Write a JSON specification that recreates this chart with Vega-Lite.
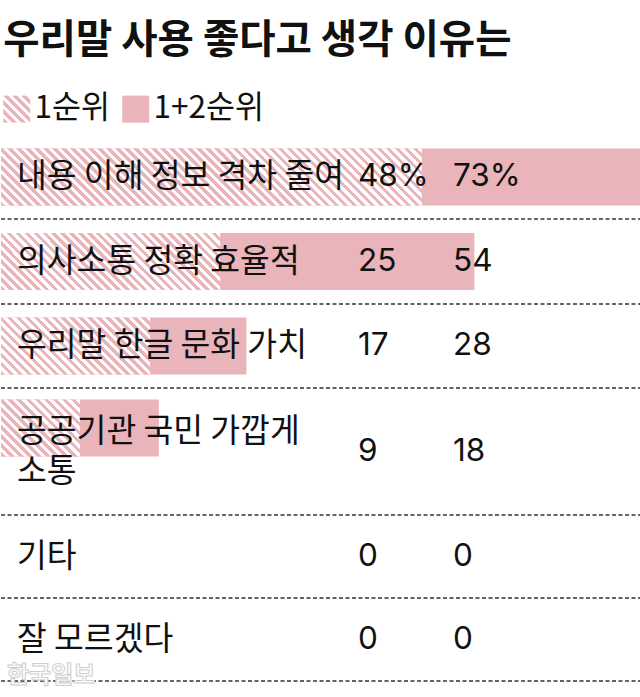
{
  "$schema": "https://vega.github.io/schema/vega-lite/v6.json",
  "padding": {"top": 20, "left": 0, "right": 0, "bottom": 16},
  "background": "white",
  "bounds": "flush",
  "spacing": 0,
  "title": {"text": "우리말 사용 좋다고 생각 이유는", "anchor": "start", "font": "Noto Sans CJK KR", "fontSize": 39.5, "fontWeight": "bold", "color": "#111111", "offset": 8, "dx": 3},
  "data": {
    "values": [
      {"item": "내용 이해 정보 격차 줄여", "series": "1순위", "value": 48},
      {"item": "내용 이해 정보 격차 줄여", "series": "1+2순위", "value": 73},
      {"item": "의사소통 정확 효율적", "series": "1순위", "value": 25},
      {"item": "의사소통 정확 효율적", "series": "1+2순위", "value": 54},
      {"item": "우리말 한글 문화 가치", "series": "1순위", "value": 17},
      {"item": "우리말 한글 문화 가치", "series": "1+2순위", "value": 28},
      {"item": "공공기관 국민 가깝게\n소통", "series": "1순위", "value": 9},
      {"item": "공공기관 국민 가깝게\n소통", "series": "1+2순위", "value": 18},
      {"item": "기타", "series": "1순위", "value": 0},
      {"item": "기타", "series": "1+2순위", "value": 0},
      {"item": "잘 모르겠다", "series": "1순위", "value": 0},
      {"item": "잘 모르겠다", "series": "1+2순위", "value": 0}
    ]
  },
  "vconcat": [
    {
      "width": 640, "height": 66,
      "mark": {"type": "square", "size": 0, "opacity": 1},
      "encoding": {
        "color": {
          "field": "series", "type": "nominal",
          "scale": {"domain": ["1순위", "1+2순위"], "range": [{"expr": "{gradient:'linear',x1:0,y1:1,x2:1,y2:0,stops:[{offset:0,color:'#e9b4ba'},{offset:0.0833,color:'#e9b4ba'},{offset:0.0833,color:'#ffffff'},{offset:0.1667,color:'#ffffff'},{offset:0.1667,color:'#e9b4ba'},{offset:0.25,color:'#e9b4ba'},{offset:0.25,color:'#ffffff'},{offset:0.3333,color:'#ffffff'},{offset:0.3333,color:'#e9b4ba'},{offset:0.4167,color:'#e9b4ba'},{offset:0.4167,color:'#ffffff'},{offset:0.5,color:'#ffffff'},{offset:0.5,color:'#e9b4ba'},{offset:0.5833,color:'#e9b4ba'},{offset:0.5833,color:'#ffffff'},{offset:0.6667,color:'#ffffff'},{offset:0.6667,color:'#e9b4ba'},{offset:0.75,color:'#e9b4ba'},{offset:0.75,color:'#ffffff'},{offset:0.8333,color:'#ffffff'},{offset:0.8333,color:'#e9b4ba'},{offset:0.9167,color:'#e9b4ba'},{offset:0.9167,color:'#ffffff'},{offset:1,color:'#ffffff'}]}"}, "#e9b4ba"]},
          "legend": {"orient": "none", "legendX": 0, "legendY": 24, "direction": "horizontal", "title": null, "symbolType": "square", "symbolSize": 729, "symbolStrokeWidth": 0, "symbolOpacity": 1, "labelFont": "Noto Sans CJK KR", "labelFontSize": 31.5, "labelColor": "#111111", "labelOffset": 2, "columnPadding": 10, "padding": 0}
        }
      }
    },
    {
      "width": 640, "height": 84,
      "transform": [{"filter": {"field": "item", "equal": "내용 이해 정보 격차 줄여"}}],
      "layer": [
        {"layer": [
          {"transform": [{"filter": {"field": "series", "equal": "1+2순위"}}],
           "mark": {"type": "bar", "fill": "#e9b4ba", "height": {"band": 0.679}},
           "encoding": {
             "x": {"field": "value", "type": "quantitative", "scale": {"domain": [0, 73], "nice": false}, "axis": null},
             "y": {"field": "item", "type": "nominal", "axis": null, "scale": {"paddingInner": 0, "paddingOuter": 0}}}},
          {"transform": [{"filter": {"field": "series", "equal": "1순위"}}],
           "mark": {"type": "bar", "height": {"band": 0.679}, "fill": {"gradient": "linear", "x1": 0, "y1": 1, "x2": 1.115, "y2": 0.849, "stops": [
             {"offset": 0, "color": "#e9b4ba"}, {"offset": 0.0094, "color": "#e9b4ba"}, {"offset": 0.0094, "color": "#ffffff"}, {"offset": 0.0189, "color": "#ffffff"},
             {"offset": 0.0189, "color": "#e9b4ba"}, {"offset": 0.0283, "color": "#e9b4ba"}, {"offset": 0.0283, "color": "#ffffff"}, {"offset": 0.0377, "color": "#ffffff"},
             {"offset": 0.0377, "color": "#e9b4ba"}, {"offset": 0.0472, "color": "#e9b4ba"}, {"offset": 0.0472, "color": "#ffffff"}, {"offset": 0.0566, "color": "#ffffff"},
             {"offset": 0.0566, "color": "#e9b4ba"}, {"offset": 0.066, "color": "#e9b4ba"}, {"offset": 0.066, "color": "#ffffff"}, {"offset": 0.0755, "color": "#ffffff"},
             {"offset": 0.0755, "color": "#e9b4ba"}, {"offset": 0.0849, "color": "#e9b4ba"}, {"offset": 0.0849, "color": "#ffffff"}, {"offset": 0.0943, "color": "#ffffff"},
             {"offset": 0.0943, "color": "#e9b4ba"}, {"offset": 0.1038, "color": "#e9b4ba"}, {"offset": 0.1038, "color": "#ffffff"}, {"offset": 0.1132, "color": "#ffffff"},
             {"offset": 0.1132, "color": "#e9b4ba"}, {"offset": 0.1226, "color": "#e9b4ba"}, {"offset": 0.1226, "color": "#ffffff"}, {"offset": 0.1321, "color": "#ffffff"},
             {"offset": 0.1321, "color": "#e9b4ba"}, {"offset": 0.1415, "color": "#e9b4ba"}, {"offset": 0.1415, "color": "#ffffff"}, {"offset": 0.1509, "color": "#ffffff"},
             {"offset": 0.1509, "color": "#e9b4ba"}, {"offset": 0.1604, "color": "#e9b4ba"}, {"offset": 0.1604, "color": "#ffffff"}, {"offset": 0.1698, "color": "#ffffff"},
             {"offset": 0.1698, "color": "#e9b4ba"}, {"offset": 0.1792, "color": "#e9b4ba"}, {"offset": 0.1792, "color": "#ffffff"}, {"offset": 0.1887, "color": "#ffffff"},
             {"offset": 0.1887, "color": "#e9b4ba"}, {"offset": 0.1981, "color": "#e9b4ba"}, {"offset": 0.1981, "color": "#ffffff"}, {"offset": 0.2075, "color": "#ffffff"},
             {"offset": 0.2075, "color": "#e9b4ba"}, {"offset": 0.217, "color": "#e9b4ba"}, {"offset": 0.217, "color": "#ffffff"}, {"offset": 0.2264, "color": "#ffffff"},
             {"offset": 0.2264, "color": "#e9b4ba"}, {"offset": 0.2358, "color": "#e9b4ba"}, {"offset": 0.2358, "color": "#ffffff"}, {"offset": 0.2453, "color": "#ffffff"},
             {"offset": 0.2453, "color": "#e9b4ba"}, {"offset": 0.2547, "color": "#e9b4ba"}, {"offset": 0.2547, "color": "#ffffff"}, {"offset": 0.2642, "color": "#ffffff"},
             {"offset": 0.2642, "color": "#e9b4ba"}, {"offset": 0.2736, "color": "#e9b4ba"}, {"offset": 0.2736, "color": "#ffffff"}, {"offset": 0.283, "color": "#ffffff"},
             {"offset": 0.283, "color": "#e9b4ba"}, {"offset": 0.2925, "color": "#e9b4ba"}, {"offset": 0.2925, "color": "#ffffff"}, {"offset": 0.3019, "color": "#ffffff"},
             {"offset": 0.3019, "color": "#e9b4ba"}, {"offset": 0.3113, "color": "#e9b4ba"}, {"offset": 0.3113, "color": "#ffffff"}, {"offset": 0.3208, "color": "#ffffff"},
             {"offset": 0.3208, "color": "#e9b4ba"}, {"offset": 0.3302, "color": "#e9b4ba"}, {"offset": 0.3302, "color": "#ffffff"}, {"offset": 0.3396, "color": "#ffffff"},
             {"offset": 0.3396, "color": "#e9b4ba"}, {"offset": 0.3491, "color": "#e9b4ba"}, {"offset": 0.3491, "color": "#ffffff"}, {"offset": 0.3585, "color": "#ffffff"},
             {"offset": 0.3585, "color": "#e9b4ba"}, {"offset": 0.3679, "color": "#e9b4ba"}, {"offset": 0.3679, "color": "#ffffff"}, {"offset": 0.3774, "color": "#ffffff"},
             {"offset": 0.3774, "color": "#e9b4ba"}, {"offset": 0.3868, "color": "#e9b4ba"}, {"offset": 0.3868, "color": "#ffffff"}, {"offset": 0.3962, "color": "#ffffff"},
             {"offset": 0.3962, "color": "#e9b4ba"}, {"offset": 0.4057, "color": "#e9b4ba"}, {"offset": 0.4057, "color": "#ffffff"}, {"offset": 0.4151, "color": "#ffffff"},
             {"offset": 0.4151, "color": "#e9b4ba"}, {"offset": 0.4245, "color": "#e9b4ba"}, {"offset": 0.4245, "color": "#ffffff"}, {"offset": 0.434, "color": "#ffffff"},
             {"offset": 0.434, "color": "#e9b4ba"}, {"offset": 0.4434, "color": "#e9b4ba"}, {"offset": 0.4434, "color": "#ffffff"}, {"offset": 0.4528, "color": "#ffffff"},
             {"offset": 0.4528, "color": "#e9b4ba"}, {"offset": 0.4623, "color": "#e9b4ba"}, {"offset": 0.4623, "color": "#ffffff"}, {"offset": 0.4717, "color": "#ffffff"},
             {"offset": 0.4717, "color": "#e9b4ba"}, {"offset": 0.4811, "color": "#e9b4ba"}, {"offset": 0.4811, "color": "#ffffff"}, {"offset": 0.4906, "color": "#ffffff"},
             {"offset": 0.4906, "color": "#e9b4ba"}, {"offset": 0.5, "color": "#e9b4ba"}, {"offset": 0.5, "color": "#ffffff"}, {"offset": 0.5094, "color": "#ffffff"},
             {"offset": 0.5094, "color": "#e9b4ba"}, {"offset": 0.5189, "color": "#e9b4ba"}, {"offset": 0.5189, "color": "#ffffff"}, {"offset": 0.5283, "color": "#ffffff"},
             {"offset": 0.5283, "color": "#e9b4ba"}, {"offset": 0.5377, "color": "#e9b4ba"}, {"offset": 0.5377, "color": "#ffffff"}, {"offset": 0.5472, "color": "#ffffff"},
             {"offset": 0.5472, "color": "#e9b4ba"}, {"offset": 0.5566, "color": "#e9b4ba"}, {"offset": 0.5566, "color": "#ffffff"}, {"offset": 0.566, "color": "#ffffff"},
             {"offset": 0.566, "color": "#e9b4ba"}, {"offset": 0.5755, "color": "#e9b4ba"}, {"offset": 0.5755, "color": "#ffffff"}, {"offset": 0.5849, "color": "#ffffff"},
             {"offset": 0.5849, "color": "#e9b4ba"}, {"offset": 0.5943, "color": "#e9b4ba"}, {"offset": 0.5943, "color": "#ffffff"}, {"offset": 0.6038, "color": "#ffffff"},
             {"offset": 0.6038, "color": "#e9b4ba"}, {"offset": 0.6132, "color": "#e9b4ba"}, {"offset": 0.6132, "color": "#ffffff"}, {"offset": 0.6226, "color": "#ffffff"},
             {"offset": 0.6226, "color": "#e9b4ba"}, {"offset": 0.6321, "color": "#e9b4ba"}, {"offset": 0.6321, "color": "#ffffff"}, {"offset": 0.6415, "color": "#ffffff"},
             {"offset": 0.6415, "color": "#e9b4ba"}, {"offset": 0.6509, "color": "#e9b4ba"}, {"offset": 0.6509, "color": "#ffffff"}, {"offset": 0.6604, "color": "#ffffff"},
             {"offset": 0.6604, "color": "#e9b4ba"}, {"offset": 0.6698, "color": "#e9b4ba"}, {"offset": 0.6698, "color": "#ffffff"}, {"offset": 0.6792, "color": "#ffffff"},
             {"offset": 0.6792, "color": "#e9b4ba"}, {"offset": 0.6887, "color": "#e9b4ba"}, {"offset": 0.6887, "color": "#ffffff"}, {"offset": 0.6981, "color": "#ffffff"},
             {"offset": 0.6981, "color": "#e9b4ba"}, {"offset": 0.7075, "color": "#e9b4ba"}, {"offset": 0.7075, "color": "#ffffff"}, {"offset": 0.717, "color": "#ffffff"},
             {"offset": 0.717, "color": "#e9b4ba"}, {"offset": 0.7264, "color": "#e9b4ba"}, {"offset": 0.7264, "color": "#ffffff"}, {"offset": 0.7358, "color": "#ffffff"},
             {"offset": 0.7358, "color": "#e9b4ba"}, {"offset": 0.7453, "color": "#e9b4ba"}, {"offset": 0.7453, "color": "#ffffff"}, {"offset": 0.7547, "color": "#ffffff"},
             {"offset": 0.7547, "color": "#e9b4ba"}, {"offset": 0.7642, "color": "#e9b4ba"}, {"offset": 0.7642, "color": "#ffffff"}, {"offset": 0.7736, "color": "#ffffff"},
             {"offset": 0.7736, "color": "#e9b4ba"}, {"offset": 0.783, "color": "#e9b4ba"}, {"offset": 0.783, "color": "#ffffff"}, {"offset": 0.7925, "color": "#ffffff"},
             {"offset": 0.7925, "color": "#e9b4ba"}, {"offset": 0.8019, "color": "#e9b4ba"}, {"offset": 0.8019, "color": "#ffffff"}, {"offset": 0.8113, "color": "#ffffff"},
             {"offset": 0.8113, "color": "#e9b4ba"}, {"offset": 0.8208, "color": "#e9b4ba"}, {"offset": 0.8208, "color": "#ffffff"}, {"offset": 0.8302, "color": "#ffffff"},
             {"offset": 0.8302, "color": "#e9b4ba"}, {"offset": 0.8396, "color": "#e9b4ba"}, {"offset": 0.8396, "color": "#ffffff"}, {"offset": 0.8491, "color": "#ffffff"},
             {"offset": 0.8491, "color": "#e9b4ba"}, {"offset": 0.8585, "color": "#e9b4ba"}, {"offset": 0.8585, "color": "#ffffff"}, {"offset": 0.8679, "color": "#ffffff"},
             {"offset": 0.8679, "color": "#e9b4ba"}, {"offset": 0.8774, "color": "#e9b4ba"}, {"offset": 0.8774, "color": "#ffffff"}, {"offset": 0.8868, "color": "#ffffff"},
             {"offset": 0.8868, "color": "#e9b4ba"}, {"offset": 0.8962, "color": "#e9b4ba"}, {"offset": 0.8962, "color": "#ffffff"}, {"offset": 0.9057, "color": "#ffffff"},
             {"offset": 0.9057, "color": "#e9b4ba"}, {"offset": 0.9151, "color": "#e9b4ba"}, {"offset": 0.9151, "color": "#ffffff"}, {"offset": 0.9245, "color": "#ffffff"},
             {"offset": 0.9245, "color": "#e9b4ba"}, {"offset": 0.934, "color": "#e9b4ba"}, {"offset": 0.934, "color": "#ffffff"}, {"offset": 0.9434, "color": "#ffffff"},
             {"offset": 0.9434, "color": "#e9b4ba"}, {"offset": 0.9528, "color": "#e9b4ba"}, {"offset": 0.9528, "color": "#ffffff"}, {"offset": 0.9623, "color": "#ffffff"},
             {"offset": 0.9623, "color": "#e9b4ba"}, {"offset": 0.9717, "color": "#e9b4ba"}, {"offset": 0.9717, "color": "#ffffff"}, {"offset": 0.9811, "color": "#ffffff"},
             {"offset": 0.9811, "color": "#e9b4ba"}, {"offset": 0.9906, "color": "#e9b4ba"}, {"offset": 0.9906, "color": "#ffffff"}, {"offset": 1, "color": "#ffffff"}]}},
           "encoding": {"x": {"field": "value", "type": "quantitative", "axis": null}, "y": {"field": "item", "type": "nominal", "axis": null}}},
          {"transform": [{"filter": {"field": "series", "equal": "1순위"}}],
           "mark": {"type": "rule", "strokeDash": [4, 2.5], "color": "#333333", "strokeWidth": 1.5},
           "encoding": {"x": {"datum": 0, "type": "quantitative", "axis": null}, "x2": {"datum": 73}, "y": {"field": "item", "type": "nominal", "axis": null, "bandPosition": 1}}},
          {"transform": [{"filter": {"field": "series", "equal": "1순위"}}],
           "mark": {"type": "text", "dx": 16, "fontSize": 32.4, "lineBreak": "\n", "lineHeight": 40},
           "encoding": {"x": {"datum": 0, "type": "quantitative", "axis": null}, "text": {"field": "item"}}}
        ]},
        {"mark": {"type": "text", "font": "Inter", "fontSize": 31.5},
         "encoding": {"x": {"field": "series", "type": "nominal", "axis": null, "scale": {"type": "point", "domain": ["1순위", "1+2순위"], "range": [357, 452], "padding": 0}}, "text": {"field": "value", "type": "quantitative", "format": "$d"}}}
      ],
      "resolve": {"scale": {"x": "independent"}}
    },
    {
      "width": 640, "height": 85,
      "transform": [{"filter": {"field": "item", "equal": "의사소통 정확 효율적"}}],
      "layer": [
        {"layer": [
          {"transform": [{"filter": {"field": "series", "equal": "1+2순위"}}],
           "mark": {"type": "bar", "fill": "#e9b4ba", "height": {"band": 0.671}},
           "encoding": {
             "x": {"field": "value", "type": "quantitative", "scale": {"domain": [0, 73], "nice": false}, "axis": null},
             "y": {"field": "item", "type": "nominal", "axis": null, "scale": {"paddingInner": 0, "paddingOuter": 0}}}},
          {"transform": [{"filter": {"field": "series", "equal": "1순위"}}],
           "mark": {"type": "bar", "height": {"band": 0.671}, "fill": {"gradient": "linear", "x1": 0, "y1": 1, "x2": 1.1802, "y2": 0.6931, "stops": [
             {"offset": 0, "color": "#e9b4ba"}, {"offset": 0.0161, "color": "#e9b4ba"}, {"offset": 0.0161, "color": "#ffffff"}, {"offset": 0.0323, "color": "#ffffff"},
             {"offset": 0.0323, "color": "#e9b4ba"}, {"offset": 0.0484, "color": "#e9b4ba"}, {"offset": 0.0484, "color": "#ffffff"}, {"offset": 0.0645, "color": "#ffffff"},
             {"offset": 0.0645, "color": "#e9b4ba"}, {"offset": 0.0806, "color": "#e9b4ba"}, {"offset": 0.0806, "color": "#ffffff"}, {"offset": 0.0968, "color": "#ffffff"},
             {"offset": 0.0968, "color": "#e9b4ba"}, {"offset": 0.1129, "color": "#e9b4ba"}, {"offset": 0.1129, "color": "#ffffff"}, {"offset": 0.129, "color": "#ffffff"},
             {"offset": 0.129, "color": "#e9b4ba"}, {"offset": 0.1452, "color": "#e9b4ba"}, {"offset": 0.1452, "color": "#ffffff"}, {"offset": 0.1613, "color": "#ffffff"},
             {"offset": 0.1613, "color": "#e9b4ba"}, {"offset": 0.1774, "color": "#e9b4ba"}, {"offset": 0.1774, "color": "#ffffff"}, {"offset": 0.1935, "color": "#ffffff"},
             {"offset": 0.1935, "color": "#e9b4ba"}, {"offset": 0.2097, "color": "#e9b4ba"}, {"offset": 0.2097, "color": "#ffffff"}, {"offset": 0.2258, "color": "#ffffff"},
             {"offset": 0.2258, "color": "#e9b4ba"}, {"offset": 0.2419, "color": "#e9b4ba"}, {"offset": 0.2419, "color": "#ffffff"}, {"offset": 0.2581, "color": "#ffffff"},
             {"offset": 0.2581, "color": "#e9b4ba"}, {"offset": 0.2742, "color": "#e9b4ba"}, {"offset": 0.2742, "color": "#ffffff"}, {"offset": 0.2903, "color": "#ffffff"},
             {"offset": 0.2903, "color": "#e9b4ba"}, {"offset": 0.3065, "color": "#e9b4ba"}, {"offset": 0.3065, "color": "#ffffff"}, {"offset": 0.3226, "color": "#ffffff"},
             {"offset": 0.3226, "color": "#e9b4ba"}, {"offset": 0.3387, "color": "#e9b4ba"}, {"offset": 0.3387, "color": "#ffffff"}, {"offset": 0.3548, "color": "#ffffff"},
             {"offset": 0.3548, "color": "#e9b4ba"}, {"offset": 0.371, "color": "#e9b4ba"}, {"offset": 0.371, "color": "#ffffff"}, {"offset": 0.3871, "color": "#ffffff"},
             {"offset": 0.3871, "color": "#e9b4ba"}, {"offset": 0.4032, "color": "#e9b4ba"}, {"offset": 0.4032, "color": "#ffffff"}, {"offset": 0.4194, "color": "#ffffff"},
             {"offset": 0.4194, "color": "#e9b4ba"}, {"offset": 0.4355, "color": "#e9b4ba"}, {"offset": 0.4355, "color": "#ffffff"}, {"offset": 0.4516, "color": "#ffffff"},
             {"offset": 0.4516, "color": "#e9b4ba"}, {"offset": 0.4677, "color": "#e9b4ba"}, {"offset": 0.4677, "color": "#ffffff"}, {"offset": 0.4839, "color": "#ffffff"},
             {"offset": 0.4839, "color": "#e9b4ba"}, {"offset": 0.5, "color": "#e9b4ba"}, {"offset": 0.5, "color": "#ffffff"}, {"offset": 0.5161, "color": "#ffffff"},
             {"offset": 0.5161, "color": "#e9b4ba"}, {"offset": 0.5323, "color": "#e9b4ba"}, {"offset": 0.5323, "color": "#ffffff"}, {"offset": 0.5484, "color": "#ffffff"},
             {"offset": 0.5484, "color": "#e9b4ba"}, {"offset": 0.5645, "color": "#e9b4ba"}, {"offset": 0.5645, "color": "#ffffff"}, {"offset": 0.5806, "color": "#ffffff"},
             {"offset": 0.5806, "color": "#e9b4ba"}, {"offset": 0.5968, "color": "#e9b4ba"}, {"offset": 0.5968, "color": "#ffffff"}, {"offset": 0.6129, "color": "#ffffff"},
             {"offset": 0.6129, "color": "#e9b4ba"}, {"offset": 0.629, "color": "#e9b4ba"}, {"offset": 0.629, "color": "#ffffff"}, {"offset": 0.6452, "color": "#ffffff"},
             {"offset": 0.6452, "color": "#e9b4ba"}, {"offset": 0.6613, "color": "#e9b4ba"}, {"offset": 0.6613, "color": "#ffffff"}, {"offset": 0.6774, "color": "#ffffff"},
             {"offset": 0.6774, "color": "#e9b4ba"}, {"offset": 0.6935, "color": "#e9b4ba"}, {"offset": 0.6935, "color": "#ffffff"}, {"offset": 0.7097, "color": "#ffffff"},
             {"offset": 0.7097, "color": "#e9b4ba"}, {"offset": 0.7258, "color": "#e9b4ba"}, {"offset": 0.7258, "color": "#ffffff"}, {"offset": 0.7419, "color": "#ffffff"},
             {"offset": 0.7419, "color": "#e9b4ba"}, {"offset": 0.7581, "color": "#e9b4ba"}, {"offset": 0.7581, "color": "#ffffff"}, {"offset": 0.7742, "color": "#ffffff"},
             {"offset": 0.7742, "color": "#e9b4ba"}, {"offset": 0.7903, "color": "#e9b4ba"}, {"offset": 0.7903, "color": "#ffffff"}, {"offset": 0.8065, "color": "#ffffff"},
             {"offset": 0.8065, "color": "#e9b4ba"}, {"offset": 0.8226, "color": "#e9b4ba"}, {"offset": 0.8226, "color": "#ffffff"}, {"offset": 0.8387, "color": "#ffffff"},
             {"offset": 0.8387, "color": "#e9b4ba"}, {"offset": 0.8548, "color": "#e9b4ba"}, {"offset": 0.8548, "color": "#ffffff"}, {"offset": 0.871, "color": "#ffffff"},
             {"offset": 0.871, "color": "#e9b4ba"}, {"offset": 0.8871, "color": "#e9b4ba"}, {"offset": 0.8871, "color": "#ffffff"}, {"offset": 0.9032, "color": "#ffffff"},
             {"offset": 0.9032, "color": "#e9b4ba"}, {"offset": 0.9194, "color": "#e9b4ba"}, {"offset": 0.9194, "color": "#ffffff"}, {"offset": 0.9355, "color": "#ffffff"},
             {"offset": 0.9355, "color": "#e9b4ba"}, {"offset": 0.9516, "color": "#e9b4ba"}, {"offset": 0.9516, "color": "#ffffff"}, {"offset": 0.9677, "color": "#ffffff"},
             {"offset": 0.9677, "color": "#e9b4ba"}, {"offset": 0.9839, "color": "#e9b4ba"}, {"offset": 0.9839, "color": "#ffffff"}, {"offset": 1, "color": "#ffffff"}]}},
           "encoding": {"x": {"field": "value", "type": "quantitative", "axis": null}, "y": {"field": "item", "type": "nominal", "axis": null}}},
          {"transform": [{"filter": {"field": "series", "equal": "1순위"}}],
           "mark": {"type": "rule", "strokeDash": [4, 2.5], "color": "#333333", "strokeWidth": 1.5},
           "encoding": {"x": {"datum": 0, "type": "quantitative", "axis": null}, "x2": {"datum": 73}, "y": {"field": "item", "type": "nominal", "axis": null, "bandPosition": 1}}},
          {"transform": [{"filter": {"field": "series", "equal": "1순위"}}],
           "mark": {"type": "text", "dx": 16, "fontSize": 32.4, "lineBreak": "\n", "lineHeight": 40},
           "encoding": {"x": {"datum": 0, "type": "quantitative", "axis": null}, "text": {"field": "item"}}}
        ]},
        {"mark": {"type": "text", "font": "Inter", "fontSize": 31.5},
         "encoding": {"x": {"field": "series", "type": "nominal", "axis": null, "scale": {"type": "point", "domain": ["1순위", "1+2순위"], "range": [357, 452], "padding": 0}}, "text": {"field": "value", "type": "quantitative"}}}
      ],
      "resolve": {"scale": {"x": "independent"}}
    },
    {
      "width": 640, "height": 84,
      "transform": [{"filter": {"field": "item", "equal": "우리말 한글 문화 가치"}}],
      "layer": [
        {"layer": [
          {"transform": [{"filter": {"field": "series", "equal": "1+2순위"}}],
           "mark": {"type": "bar", "fill": "#e9b4ba", "height": {"band": 0.679}},
           "encoding": {
             "x": {"field": "value", "type": "quantitative", "scale": {"domain": [0, 73], "nice": false}, "axis": null},
             "y": {"field": "item", "type": "nominal", "axis": null, "scale": {"paddingInner": 0, "paddingOuter": 0}}}},
          {"transform": [{"filter": {"field": "series", "equal": "1순위"}}],
           "mark": {"type": "bar", "height": {"band": 0.679}, "fill": {"gradient": "linear", "x1": 0, "y1": 1, "x2": 1.206, "y2": 0.5388, "stops": [
             {"offset": 0, "color": "#e9b4ba"}, {"offset": 0.0217, "color": "#e9b4ba"}, {"offset": 0.0217, "color": "#ffffff"}, {"offset": 0.0435, "color": "#ffffff"},
             {"offset": 0.0435, "color": "#e9b4ba"}, {"offset": 0.0652, "color": "#e9b4ba"}, {"offset": 0.0652, "color": "#ffffff"}, {"offset": 0.087, "color": "#ffffff"},
             {"offset": 0.087, "color": "#e9b4ba"}, {"offset": 0.1087, "color": "#e9b4ba"}, {"offset": 0.1087, "color": "#ffffff"}, {"offset": 0.1304, "color": "#ffffff"},
             {"offset": 0.1304, "color": "#e9b4ba"}, {"offset": 0.1522, "color": "#e9b4ba"}, {"offset": 0.1522, "color": "#ffffff"}, {"offset": 0.1739, "color": "#ffffff"},
             {"offset": 0.1739, "color": "#e9b4ba"}, {"offset": 0.1957, "color": "#e9b4ba"}, {"offset": 0.1957, "color": "#ffffff"}, {"offset": 0.2174, "color": "#ffffff"},
             {"offset": 0.2174, "color": "#e9b4ba"}, {"offset": 0.2391, "color": "#e9b4ba"}, {"offset": 0.2391, "color": "#ffffff"}, {"offset": 0.2609, "color": "#ffffff"},
             {"offset": 0.2609, "color": "#e9b4ba"}, {"offset": 0.2826, "color": "#e9b4ba"}, {"offset": 0.2826, "color": "#ffffff"}, {"offset": 0.3043, "color": "#ffffff"},
             {"offset": 0.3043, "color": "#e9b4ba"}, {"offset": 0.3261, "color": "#e9b4ba"}, {"offset": 0.3261, "color": "#ffffff"}, {"offset": 0.3478, "color": "#ffffff"},
             {"offset": 0.3478, "color": "#e9b4ba"}, {"offset": 0.3696, "color": "#e9b4ba"}, {"offset": 0.3696, "color": "#ffffff"}, {"offset": 0.3913, "color": "#ffffff"},
             {"offset": 0.3913, "color": "#e9b4ba"}, {"offset": 0.413, "color": "#e9b4ba"}, {"offset": 0.413, "color": "#ffffff"}, {"offset": 0.4348, "color": "#ffffff"},
             {"offset": 0.4348, "color": "#e9b4ba"}, {"offset": 0.4565, "color": "#e9b4ba"}, {"offset": 0.4565, "color": "#ffffff"}, {"offset": 0.4783, "color": "#ffffff"},
             {"offset": 0.4783, "color": "#e9b4ba"}, {"offset": 0.5, "color": "#e9b4ba"}, {"offset": 0.5, "color": "#ffffff"}, {"offset": 0.5217, "color": "#ffffff"},
             {"offset": 0.5217, "color": "#e9b4ba"}, {"offset": 0.5435, "color": "#e9b4ba"}, {"offset": 0.5435, "color": "#ffffff"}, {"offset": 0.5652, "color": "#ffffff"},
             {"offset": 0.5652, "color": "#e9b4ba"}, {"offset": 0.587, "color": "#e9b4ba"}, {"offset": 0.587, "color": "#ffffff"}, {"offset": 0.6087, "color": "#ffffff"},
             {"offset": 0.6087, "color": "#e9b4ba"}, {"offset": 0.6304, "color": "#e9b4ba"}, {"offset": 0.6304, "color": "#ffffff"}, {"offset": 0.6522, "color": "#ffffff"},
             {"offset": 0.6522, "color": "#e9b4ba"}, {"offset": 0.6739, "color": "#e9b4ba"}, {"offset": 0.6739, "color": "#ffffff"}, {"offset": 0.6957, "color": "#ffffff"},
             {"offset": 0.6957, "color": "#e9b4ba"}, {"offset": 0.7174, "color": "#e9b4ba"}, {"offset": 0.7174, "color": "#ffffff"}, {"offset": 0.7391, "color": "#ffffff"},
             {"offset": 0.7391, "color": "#e9b4ba"}, {"offset": 0.7609, "color": "#e9b4ba"}, {"offset": 0.7609, "color": "#ffffff"}, {"offset": 0.7826, "color": "#ffffff"},
             {"offset": 0.7826, "color": "#e9b4ba"}, {"offset": 0.8043, "color": "#e9b4ba"}, {"offset": 0.8043, "color": "#ffffff"}, {"offset": 0.8261, "color": "#ffffff"},
             {"offset": 0.8261, "color": "#e9b4ba"}, {"offset": 0.8478, "color": "#e9b4ba"}, {"offset": 0.8478, "color": "#ffffff"}, {"offset": 0.8696, "color": "#ffffff"},
             {"offset": 0.8696, "color": "#e9b4ba"}, {"offset": 0.8913, "color": "#e9b4ba"}, {"offset": 0.8913, "color": "#ffffff"}, {"offset": 0.913, "color": "#ffffff"},
             {"offset": 0.913, "color": "#e9b4ba"}, {"offset": 0.9348, "color": "#e9b4ba"}, {"offset": 0.9348, "color": "#ffffff"}, {"offset": 0.9565, "color": "#ffffff"},
             {"offset": 0.9565, "color": "#e9b4ba"}, {"offset": 0.9783, "color": "#e9b4ba"}, {"offset": 0.9783, "color": "#ffffff"}, {"offset": 1, "color": "#ffffff"}]}},
           "encoding": {"x": {"field": "value", "type": "quantitative", "axis": null}, "y": {"field": "item", "type": "nominal", "axis": null}}},
          {"transform": [{"filter": {"field": "series", "equal": "1순위"}}],
           "mark": {"type": "rule", "strokeDash": [4, 2.5], "color": "#333333", "strokeWidth": 1.5},
           "encoding": {"x": {"datum": 0, "type": "quantitative", "axis": null}, "x2": {"datum": 73}, "y": {"field": "item", "type": "nominal", "axis": null, "bandPosition": 1}}},
          {"transform": [{"filter": {"field": "series", "equal": "1순위"}}],
           "mark": {"type": "text", "dx": 16, "fontSize": 32.4, "lineBreak": "\n", "lineHeight": 40},
           "encoding": {"x": {"datum": 0, "type": "quantitative", "axis": null}, "text": {"field": "item"}}}
        ]},
        {"mark": {"type": "text", "font": "Inter", "fontSize": 31.5},
         "encoding": {"x": {"field": "series", "type": "nominal", "axis": null, "scale": {"type": "point", "domain": ["1순위", "1+2순위"], "range": [357, 452], "padding": 0}}, "text": {"field": "value", "type": "quantitative"}}}
      ],
      "resolve": {"scale": {"x": "independent"}}
    },
    {
      "width": 640, "height": 127,
      "transform": [{"filter": {"field": "item", "equal": "공공기관 국민 가깝게\n소통"}}],
      "layer": [
        {"layer": [
          {"transform": [{"filter": {"field": "series", "equal": "1+2순위"}}],
           "mark": {"type": "bar", "fill": "#e9b4ba", "height": {"band": 0.4488}, "yOffset": -23.5},
           "encoding": {
             "x": {"field": "value", "type": "quantitative", "scale": {"domain": [0, 73], "nice": false}, "axis": null},
             "y": {"field": "item", "type": "nominal", "axis": null, "scale": {"paddingInner": 0, "paddingOuter": 0}}}},
          {"transform": [{"filter": {"field": "series", "equal": "1순위"}}],
           "mark": {"type": "bar", "height": {"band": 0.4488}, "yOffset": -23.5, "fill": {"gradient": "linear", "x1": 0, "y1": 1, "x2": 1.1318, "y2": 0.1824, "stops": [
             {"offset": 0, "color": "#e9b4ba"}, {"offset": 0.0333, "color": "#e9b4ba"}, {"offset": 0.0333, "color": "#ffffff"}, {"offset": 0.0667, "color": "#ffffff"},
             {"offset": 0.0667, "color": "#e9b4ba"}, {"offset": 0.1, "color": "#e9b4ba"}, {"offset": 0.1, "color": "#ffffff"}, {"offset": 0.1333, "color": "#ffffff"},
             {"offset": 0.1333, "color": "#e9b4ba"}, {"offset": 0.1667, "color": "#e9b4ba"}, {"offset": 0.1667, "color": "#ffffff"}, {"offset": 0.2, "color": "#ffffff"},
             {"offset": 0.2, "color": "#e9b4ba"}, {"offset": 0.2333, "color": "#e9b4ba"}, {"offset": 0.2333, "color": "#ffffff"}, {"offset": 0.2667, "color": "#ffffff"},
             {"offset": 0.2667, "color": "#e9b4ba"}, {"offset": 0.3, "color": "#e9b4ba"}, {"offset": 0.3, "color": "#ffffff"}, {"offset": 0.3333, "color": "#ffffff"},
             {"offset": 0.3333, "color": "#e9b4ba"}, {"offset": 0.3667, "color": "#e9b4ba"}, {"offset": 0.3667, "color": "#ffffff"}, {"offset": 0.4, "color": "#ffffff"},
             {"offset": 0.4, "color": "#e9b4ba"}, {"offset": 0.4333, "color": "#e9b4ba"}, {"offset": 0.4333, "color": "#ffffff"}, {"offset": 0.4667, "color": "#ffffff"},
             {"offset": 0.4667, "color": "#e9b4ba"}, {"offset": 0.5, "color": "#e9b4ba"}, {"offset": 0.5, "color": "#ffffff"}, {"offset": 0.5333, "color": "#ffffff"},
             {"offset": 0.5333, "color": "#e9b4ba"}, {"offset": 0.5667, "color": "#e9b4ba"}, {"offset": 0.5667, "color": "#ffffff"}, {"offset": 0.6, "color": "#ffffff"},
             {"offset": 0.6, "color": "#e9b4ba"}, {"offset": 0.6333, "color": "#e9b4ba"}, {"offset": 0.6333, "color": "#ffffff"}, {"offset": 0.6667, "color": "#ffffff"},
             {"offset": 0.6667, "color": "#e9b4ba"}, {"offset": 0.7, "color": "#e9b4ba"}, {"offset": 0.7, "color": "#ffffff"}, {"offset": 0.7333, "color": "#ffffff"},
             {"offset": 0.7333, "color": "#e9b4ba"}, {"offset": 0.7667, "color": "#e9b4ba"}, {"offset": 0.7667, "color": "#ffffff"}, {"offset": 0.8, "color": "#ffffff"},
             {"offset": 0.8, "color": "#e9b4ba"}, {"offset": 0.8333, "color": "#e9b4ba"}, {"offset": 0.8333, "color": "#ffffff"}, {"offset": 0.8667, "color": "#ffffff"},
             {"offset": 0.8667, "color": "#e9b4ba"}, {"offset": 0.9, "color": "#e9b4ba"}, {"offset": 0.9, "color": "#ffffff"}, {"offset": 0.9333, "color": "#ffffff"},
             {"offset": 0.9333, "color": "#e9b4ba"}, {"offset": 0.9667, "color": "#e9b4ba"}, {"offset": 0.9667, "color": "#ffffff"}, {"offset": 1, "color": "#ffffff"}]}},
           "encoding": {"x": {"field": "value", "type": "quantitative", "axis": null}, "y": {"field": "item", "type": "nominal", "axis": null}}},
          {"transform": [{"filter": {"field": "series", "equal": "1순위"}}],
           "mark": {"type": "rule", "strokeDash": [4, 2.5], "color": "#333333", "strokeWidth": 1.5},
           "encoding": {"x": {"datum": 0, "type": "quantitative", "axis": null}, "x2": {"datum": 73}, "y": {"field": "item", "type": "nominal", "axis": null, "bandPosition": 1}}},
          {"transform": [{"filter": {"field": "series", "equal": "1순위"}}],
           "mark": {"type": "text", "dx": 16, "dy": -20, "fontSize": 32.4, "lineBreak": "\n", "lineHeight": 40},
           "encoding": {"x": {"datum": 0, "type": "quantitative", "axis": null}, "text": {"field": "item"}}}
        ]},
        {"mark": {"type": "text", "font": "Inter", "fontSize": 31.5},
         "encoding": {"x": {"field": "series", "type": "nominal", "axis": null, "scale": {"type": "point", "domain": ["1순위", "1+2순위"], "range": [357, 452], "padding": 0}}, "text": {"field": "value", "type": "quantitative"}}}
      ],
      "resolve": {"scale": {"x": "independent"}}
    },
    {
      "width": 640, "height": 83,
      "transform": [{"filter": {"field": "item", "equal": "기타"}}],
      "layer": [
        {"layer": [
          {"transform": [{"filter": {"field": "series", "equal": "1순위"}}],
           "mark": {"type": "rule", "strokeDash": [4, 2.5], "color": "#333333", "strokeWidth": 1.5},
           "encoding": {"x": {"datum": 0, "type": "quantitative", "axis": null, "scale": {"domain": [0, 73], "nice": false}}, "x2": {"datum": 73}, "y": {"field": "item", "type": "nominal", "axis": null, "bandPosition": 1, "scale": {"paddingInner": 0, "paddingOuter": 0}}}},
          {"transform": [{"filter": {"field": "series", "equal": "1순위"}}],
           "mark": {"type": "text", "dx": 16, "fontSize": 32.4, "lineBreak": "\n", "lineHeight": 40},
           "encoding": {"x": {"datum": 0, "type": "quantitative", "axis": null}, "text": {"field": "item"}}}
        ]},
        {"mark": {"type": "text", "font": "Inter", "fontSize": 31.5},
         "encoding": {"x": {"field": "series", "type": "nominal", "axis": null, "scale": {"type": "point", "domain": ["1순위", "1+2순위"], "range": [357, 452], "padding": 0}}, "text": {"field": "value", "type": "quantitative"}}}
      ],
      "resolve": {"scale": {"x": "independent"}}
    },
    {
      "width": 640, "height": 83,
      "transform": [{"filter": {"field": "item", "equal": "잘 모르겠다"}}],
      "layer": [
        {"layer": [
          {"transform": [{"filter": {"field": "series", "equal": "1순위"}}],
           "mark": {"type": "rule", "strokeDash": [4, 2.5], "color": "#333333", "strokeWidth": 1.5},
           "encoding": {"x": {"datum": 0, "type": "quantitative", "axis": null, "scale": {"domain": [0, 73], "nice": false}}, "x2": {"datum": 73}, "y": {"field": "item", "type": "nominal", "axis": null, "bandPosition": 1, "scale": {"paddingInner": 0, "paddingOuter": 0}}}},
          {"transform": [{"filter": {"field": "series", "equal": "1순위"}}],
           "mark": {"type": "text", "dx": 6, "dy": 36, "fontSize": 24, "fontWeight": "bold", "fill": "#fbfbfb", "stroke": "#cfcfcf", "strokeWidth": 1, "text": "한국일보"},
           "encoding": {"x": {"datum": 0, "type": "quantitative", "axis": null}}},
          {"transform": [{"filter": {"field": "series", "equal": "1순위"}}],
           "mark": {"type": "text", "dx": 16, "fontSize": 32.4, "lineBreak": "\n", "lineHeight": 40},
           "encoding": {"x": {"datum": 0, "type": "quantitative", "axis": null}, "text": {"field": "item"}}}
        ]},
        {"mark": {"type": "text", "font": "Inter", "fontSize": 31.5},
         "encoding": {"x": {"field": "series", "type": "nominal", "axis": null, "scale": {"type": "point", "domain": ["1순위", "1+2순위"], "range": [357, 452], "padding": 0}}, "text": {"field": "value", "type": "quantitative"}}}
      ],
      "resolve": {"scale": {"x": "independent"}}
    }
  ],
  "config": {
    "view": {"stroke": null},
    "font": "Noto Sans CJK KR",
    "text": {"font": "Noto Sans CJK KR", "color": "#111111", "align": "left", "baseline": "middle"},
    "locale": {"number": {"decimal": ".", "thousands": ",", "grouping": [3], "currency": ["", "%"]}}
  }
}
